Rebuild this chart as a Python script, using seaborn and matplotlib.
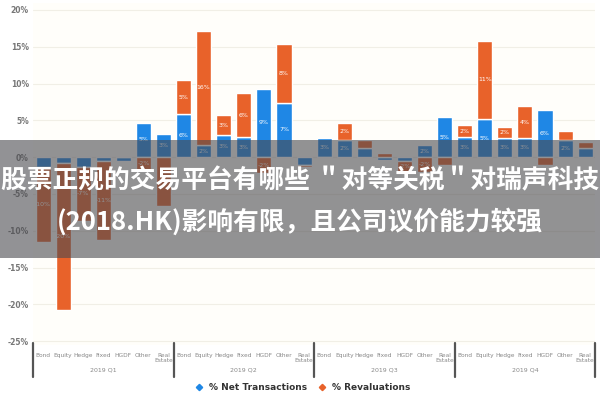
import numpy as np
import pandas as pd
import seaborn as sns
import matplotlib.pyplot as plt
import matplotlib.transforms as mtransforms
from matplotlib.lines import Line2D
from matplotlib.patches import Rectangle

# dados (em %)
quarters = ["2019 Q1", "2019 Q2", "2019 Q3", "2019 Q4"]
asset_classes = ["Bond", "Equity", "Hedge", "Fixed", "HGDF", "Other", "Real\nEstate"]

net_q1 = [-1.3, -0.8, -1.3, -0.5, -0.5, 4.7, 3.1]
net_q2 = [5.8, 1.6, 3.0, 2.7, 9.3, 7.4, -1.1]
net_q3 = [2.6, 2.3, 1.3, -0.4, -0.5, 1.6, 5.4]
net_q4 = [2.7, 5.2, 2.6, 2.6, 6.4, 2.3, 1.2]

reval_q1 = [-10.2, -20.0, -7.4, -10.7, 0.0, -1.8, -6.7]
reval_q2 = [4.7, 15.6, 2.7, 6.0, -2.2, 8.0, -0.3]
reval_q3 = [0.0, 2.4, 1.0, 0.6, -1.5, -2.0, -1.1]
reval_q4 = [1.6, 10.6, 1.5, 4.3, -1.1, 1.3, 0.8]

title_line1 = "股票正规的交易平台有哪些 ＂对等关税＂对瑞声科技"
title_line2 = "(2018.HK)影响有限，且公司议价能力较强"

blue = "#1F87E5"
orange = "#E8622A"

net = np.array(net_q1 + net_q2 + net_q3 + net_q4)
reval = np.array(reval_q1 + reval_q2 + reval_q3 + reval_q4)
# revalorizacao empilhada sobre a transacao quando tem o mesmo sinal
base = np.where(np.sign(net) == np.sign(reval), net, 0.0)

df = pd.DataFrame({
    "slot": np.arange(len(net)),
    "net": net,
    "reval": reval,
    "base": base,
})

sns.set_theme(style="white")
plt.rcParams["font.family"] = ["DejaVu Sans"]

fig = plt.figure(figsize=(6, 4), dpi=100)
fig.patch.set_facecolor("white")
ax = fig.add_axes([0.055, 0.138, 0.937, 0.8555])
ax.set_facecolor("#FFFEFA")

sns.barplot(data=df, x="slot", y="net", color=blue, saturation=1, width=0.75,
            errorbar=None, ax=ax, zorder=3)
sns.barplot(data=df, x="slot", y="reval", color=orange, saturation=1, width=0.75,
            errorbar=None, ax=ax, bottom=df["base"].to_numpy(), zorder=3)

# rotulos dentro das barras
for i in range(len(df)):
    n, r, b = df.loc[i, "net"], df.loc[i, "reval"], df.loc[i, "base"]
    if abs(n) >= 1.5:
        ax.text(i, n / 2, f"{n:.0f}%", ha="center", va="center", color="white",
                fontsize=4.5, zorder=4)
    if abs(r) >= 1.5:
        ax.text(i, b + r / 2, f"{r:.0f}%", ha="center", va="center", color="white",
                fontsize=4.5, zorder=4)

ax.set_xlim(-0.5, 27.5)
ax.set_ylim(-25.5, 21)
yt = list(range(-25, 21, 5))
ax.set_yticks(yt)
ax.set_yticklabels([f"{v}%" for v in yt], fontsize=5.5, color="#777777", fontweight="bold")
ax.yaxis.grid(True, color="#F1EFE6", linewidth=0.8, zorder=0)
ax.set_axisbelow(True)

ax.set_xticks(range(28))
ax.set_xticklabels(asset_classes * 4, fontsize=4.2, color="#888888", linespacing=0.9)
ax.tick_params(axis="both", length=0, pad=3)
ax.tick_params(axis="x", pad=6)
ax.set_xlabel("")
ax.set_ylabel("")
for s in ax.spines.values():
    s.set_visible(False)

trans = mtransforms.blended_transform_factory(ax.transData, fig.transFigure)
for xs in [-0.5, 6.5, 13.5, 20.5, 27.5]:
    ax.plot([xs, xs], [0.1425, 0.0575], color="#555555", lw=1.6, transform=trans,
            clip_on=False)
for k, q in enumerate(quarters):
    ax.text(3 + 7 * k, 0.075, q, ha="center", va="center", fontsize=4.5,
            color="#888888", transform=trans)

handles = [Line2D([], [], marker="D", ls="", color=blue, markersize=3.2),
           Line2D([], [], marker="D", ls="", color=orange, markersize=3.2)]
fig.legend(handles, ["% Net Transactions", "% Revaluations"], loc="center",
           bbox_to_anchor=(0.5, 0.03), ncol=2, frameon=False,
           prop={"weight": "bold", "size": 6.5}, handletextpad=0.1,
           columnspacing=0.6, labelcolor="#333333")

# faixa cinza com o titulo por cima
fig.add_artist(Rectangle((0, 0.355), 1, 0.295, transform=fig.transFigure,
                         facecolor="#4A4A4F", alpha=0.6, edgecolor="none", zorder=10))
cjk = ["Noto Sans CJK SC", "DejaVu Sans"]
fig.text(0.5, 0.5475, title_line1, ha="center", va="center", color="white",
         fontsize=18.5, fontweight="bold", family=cjk, zorder=11)
fig.text(0.5, 0.445, title_line2, ha="center", va="center", color="white",
         fontsize=18.5, fontweight="bold", family=cjk, zorder=11)

fig.savefig("out.png", dpi=100)
